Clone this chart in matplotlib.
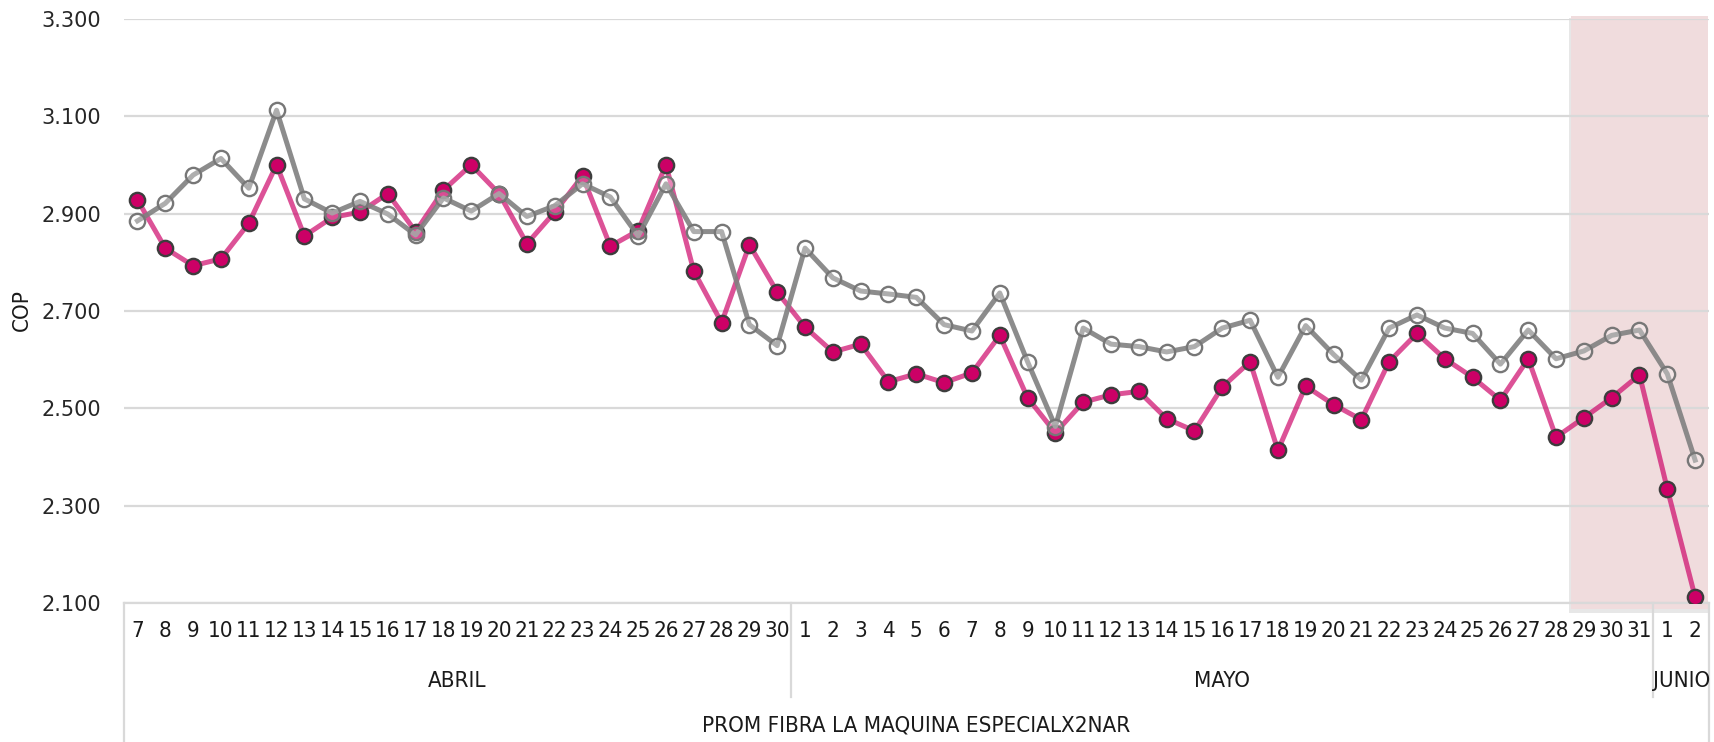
import matplotlib.pyplot as plt
import matplotlib.transforms as mtransforms
from matplotlib.patches import Rectangle
from matplotlib import font_manager

# Días de cada mes
dias_abril = list(range(7, 31))
dias_mayo = list(range(1, 32))
dias_junio = [1, 2]
meses = ["ABRIL", "MAYO", "JUNIO"]

# COP serie rosada (puntos rellenos)
cop_rosa = [2.928, 2.829, 2.793, 2.807, 2.880, 3.000, 2.854, 2.892, 2.903, 2.941,
            2.863, 2.948, 3.000, 2.941, 2.838, 2.903, 2.977, 2.833, 2.865, 3.000,
            2.782, 2.676, 2.836, 2.739,
            2.667, 2.616, 2.632, 2.555, 2.571, 2.553, 2.573, 2.650, 2.522, 2.450,
            2.513, 2.528, 2.535, 2.479, 2.454, 2.544, 2.596, 2.414, 2.546, 2.508,
            2.477, 2.596, 2.654, 2.602, 2.564, 2.517, 2.602, 2.441, 2.481, 2.522,
            2.569,
            2.335, 2.113]

# COP serie gris (puntos huecos)
cop_gris = [2.885, 2.921, 2.979, 3.013, 2.952, 3.112, 2.930, 2.901, 2.925, 2.899,
            2.856, 2.932, 2.905, 2.941, 2.894, 2.916, 2.961, 2.934, 2.854, 2.961,
            2.863, 2.863, 2.672, 2.629,
            2.829, 2.768, 2.741, 2.735, 2.728, 2.672, 2.659, 2.737, 2.596, 2.463,
            2.665, 2.632, 2.627, 2.616, 2.627, 2.665, 2.681, 2.564, 2.670, 2.611,
            2.558, 2.665, 2.692, 2.665, 2.654, 2.591, 2.661, 2.602, 2.618, 2.650,
            2.661,
            2.571, 2.394]

etiquetas = [str(d) for d in dias_abril + dias_mayo + dias_junio]
x = list(range(len(etiquetas)))
n_abr, n_may, n_jun = len(dias_abril), len(dias_mayo), len(dias_junio)

# fuente estrecha (parecida a Calibri)
estrecha = font_manager.FontProperties(family='DejaVu Sans', stretch='condensed', size=16)
gris_claro = '#d9d9d9'
negro = '#1a1a1a'

fig = plt.figure(figsize=(17.14, 7.42), dpi=100)
ax = fig.add_axes([0.0721, 0.1868, 0.925, 0.7881])

# Zona sombreada (29 mayo - 2 junio) con sombra
ax.add_patch(Rectangle((51.45, 2.081), 5.0, 1.22, facecolor='#bbbbbb', alpha=0.35,
                       edgecolor='none', clip_on=False, zorder=0.1))
ax.add_patch(Rectangle((51.55, 2.088), 4.9, 1.217, facecolor='#f0dcdd',
                       edgecolor='none', clip_on=False, zorder=0.2))

# Líneas
ax.plot(x, cop_rosa, color='#cc0066', alpha=0.68, linewidth=3.6, zorder=3,
        solid_joinstyle='round')
ax.plot(x, cop_rosa, linestyle='none', marker='o', markersize=11,
        markerfacecolor='#cc0066', markeredgecolor='#3d3d3d', markeredgewidth=1.7,
        zorder=4)
ax.plot(x, cop_gris, color='#808080', alpha=0.9, linewidth=3.6, zorder=5,
        solid_joinstyle='round')
ax.plot(x, cop_gris, linestyle='none', marker='o', markersize=11,
        markerfacecolor=(1, 1, 1, 0.3), markeredgecolor='#777777',
        markeredgewidth=1.7, zorder=6)

# Ejes
ax.set_xlim(-0.5, len(x) - 0.5)
ax.set_ylim(2.1, 3.3)
ax.set_yticks([2.1, 2.3, 2.5, 2.7, 2.9, 3.1, 3.3])
ax.set_yticklabels(["2.100", "2.300", "2.500", "2.700", "2.900", "3.100", "3.300"],
                   fontsize=15, color='#262626')
ax.grid(axis='y', color=gris_claro, linewidth=1.6)
ax.set_axisbelow(True)
for lado in ['top', 'right', 'left']:
    ax.spines[lado].set_visible(False)
ax.spines['bottom'].set_color(gris_claro)
ax.spines['bottom'].set_linewidth(1.6)
ax.tick_params(axis='y', length=0, pad=16)

ax.set_xticks(x)
ax.set_xticklabels(etiquetas, fontproperties=estrecha, color=negro)
ax.tick_params(axis='x', length=0, pad=13)

# Etiquetas de meses y título inferior
trans = mtransforms.blended_transform_factory(ax.transData, ax.transAxes)
centros = [(n_abr - 1) / 2, n_abr + (n_may - 1) / 2, n_abr + n_may + (n_jun - 1) / 2]
for mes, cx in zip(meses, centros):
    ax.text(cx, -0.133, mes, transform=trans, ha='center', va='center',
            fontproperties=estrecha, color=negro)
ax.text((len(x) - 1) / 2, -0.208, "PROM FIBRA LA MAQUINA ESPECIALX2NAR",
        transform=trans, ha='center', va='center', fontproperties=estrecha,
        color=negro)

# Líneas separadoras del eje de categorías
for xs, y_fin in [(-0.5, -0.24), (n_abr - 0.5, -0.160),
                  (n_abr + n_may - 0.5, -0.160), (len(x) - 0.5, -0.24)]:
    ax.plot([xs, xs], [0, y_fin], transform=trans, color=gris_claro,
            linewidth=1.6, clip_on=False)

fig.text(0.013, 0.582, "COP", rotation=90, ha='center', va='center',
         fontproperties=estrecha, color=negro)

plt.savefig("out.png", dpi=100)
